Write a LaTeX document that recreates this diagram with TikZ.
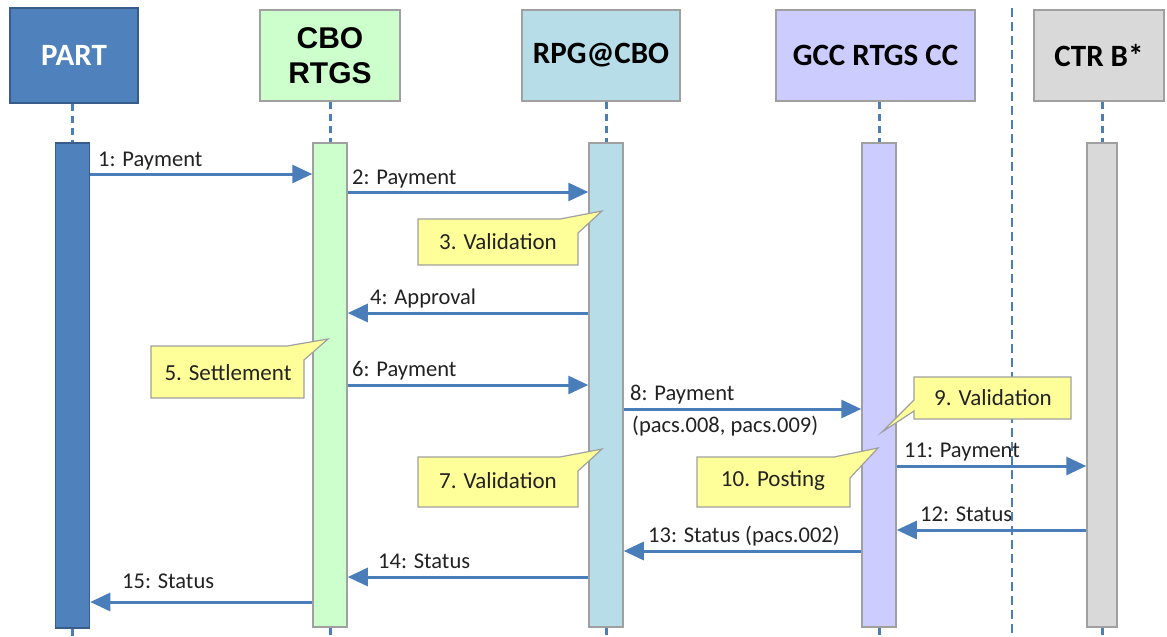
\documentclass[tikz,border=0pt]{standalone}
\usepackage{fontspec}
\setmainfont{Carlito}
\newfontfamily\arialfont{Liberation Sans}
\usetikzlibrary{arrows.meta}
\definecolor{partblue}{HTML}{4F81BD}
\definecolor{partdark}{HTML}{385D8A}
\definecolor{msgblue}{HTML}{4A7EBB}
\definecolor{cbogreen}{HTML}{CCFFCC}
\definecolor{rpgblue}{HTML}{B7DDE8}
\definecolor{gccviolet}{HTML}{CCCCFF}
\definecolor{ctrgrey}{HTML}{D9D9D9}
\definecolor{boxedge}{HTML}{A0A0A0}
\definecolor{noteyellow}{HTML}{FFFF99}
\definecolor{labeltxt}{HTML}{222222}
\tikzset{
  head/.style={draw=boxedge, line width=1.5pt, inner sep=0pt, align=center, font=\bfseries\fontsize{31}{34}\selectfont},
  bar/.style={draw=boxedge, line width=1.5pt, inner sep=0pt, minimum width=34pt},
  life/.style={draw=msgblue, line width=3pt, dash pattern=on 7pt off 5pt},
  sep/.style={draw=msgblue, line width=1.3pt, dash pattern=on 9pt off 5pt},
  msg/.style={draw=msgblue, line width=3pt, -{Triangle[length=20pt,width=18pt]}},
  lbl/.style={anchor=base west, inner sep=0pt, text=labeltxt, font=\fontsize{22.5}{24}\selectfont},
  note/.style={draw=boxedge, fill=noteyellow, line width=1.2pt},
  notetxt/.style={inner sep=0pt, text=labeltxt, font=\fontsize{23}{25}\selectfont},
}
\begin{document}
\begin{tikzpicture}[x=1pt,y=-1pt]
\useasboundingbox (0,0) rectangle (1167,637);
% separator
\coordinate (septop) at (1012,8);
\coordinate (sepbot) at (1012,637);
\draw[sep] (septop) -- (sepbot);
% headers
\node[head, fill=partblue, draw=partdark, text=white, minimum width=128pt, minimum height=95pt] (hpart) at (74,55.5) {PART};
\node[head, fill=cbogreen, minimum width=140pt, minimum height=91pt, font=\arialfont\bfseries\fontsize{30}{35}\selectfont] (hcbo) at (330,55.5) {CBO\\RTGS};
\node[head, fill=rpgblue, minimum width=158pt, minimum height=91pt] (hrpg) at (601,55.5) {RPG@CBO};
\node[head, fill=gccviolet, minimum width=199pt, minimum height=91pt] (hgcc) at (875.5,55.5) {GCC RTGS CC};
\node[head, fill=ctrgrey, minimum width=130pt, minimum height=91pt] (hctr) at (1099,55.5) {CTR B*};
% activation bars
\node[bar, fill=partblue, draw=partdark, minimum height=485pt] (bpart) at (72.5,385.5) {};
\node[bar, fill=cbogreen, minimum height=484pt] (bcbo) at (330,385) {};
\node[bar, fill=rpgblue, minimum height=484pt] (brpg) at (606,385) {};
\node[bar, fill=gccviolet, minimum height=484pt] (bgcc) at (879,385) {};
\node[bar, fill=ctrgrey, minimum width=30pt, minimum height=484pt] (bctr) at (1102,385) {};
% lifelines
\foreach \h/\b in {hpart/bpart, hcbo/bcbo, hrpg/brpg, hgcc/bgcc, hctr/bctr}{
  \draw[life] (\b.north |- \h.south) -- (\b.north);
  \coordinate (\b end) at (\b.south |- sepbot);
  \draw[life] (\b.south) -- (\b end);
}
% messages
\draw[msg] (bpart.east |- 0,174) -- (bcbo.west |- 0,174);
\node[lbl] (l1) at (98,166) {1: Payment};
\draw[msg] (bcbo.east |- 0,192) -- (brpg.west |- 0,192);
\node[lbl] (l2) at (352,184) {2: Payment};
\draw[msg] (brpg.west |- 0,313) -- (bcbo.east |- 0,313);
\node[lbl] (l4) at (370,304) {4: Approval};
\draw[msg] (bcbo.east |- 0,385) -- (brpg.west |- 0,385);
\node[lbl] (l6) at (352,376) {6: Payment};
\draw[msg] (brpg.east |- 0,409) -- (bgcc.west |- 0,409);
\node[lbl] (l8) at (630,400) {8: Payment};
\node[lbl] (l8b) at (632,432) {(pacs.008, pacs.009)};
\draw[msg] (bgcc.east |- 0,466) -- (bctr.west |- 0,466);
\node[lbl] (l11) at (904,457) {11: Payment};
\draw[msg] (bctr.west |- 0,530) -- (bgcc.east |- 0,530);
\node[lbl] (l12) at (920,521) {12: Status};
\draw[msg] (bgcc.west |- 0,551) -- (brpg.east |- 0,551);
\node[lbl] (l13) at (648,542) {13: Status (pacs.002)};
\draw[msg] (brpg.west |- 0,577) -- (bcbo.east |- 0,577);
\node[lbl] (l14) at (378,568) {14: Status};
\draw[msg] (bcbo.west |- 0,602) -- (bpart.east |- 0,602);
\node[lbl] (l15) at (122,588) {15: Status};
% notes
\draw[note] (418,219) -- (560,219) -- (602,211) -- (578,233) -- (578,265) -- (418,265) -- cycle;
\node[notetxt] (n3) at (498,242) {3. Validation};
\draw[note] (151,346) -- (287,346) -- (328,339) -- (304,360) -- (304,398) -- (151,398) -- cycle;
\node[notetxt] (n5) at (228,373) {5. Settlement};
\draw[note] (418,457) -- (560,457) -- (602,449) -- (578,471) -- (578,507) -- (418,507) -- cycle;
\node[notetxt] (n7) at (498,481) {7. Validation};
\draw[note] (914,377) -- (1071,377) -- (1071,419) -- (914,419) -- (914,411) -- (882,432) -- (914,400) -- cycle;
\node[notetxt] (n9) at (993,398) {9. Validation};
\draw[note] (697,457) -- (834,457) -- (878,448) -- (850,478) -- (850,507) -- (697,507) -- cycle;
\node[notetxt] (n10) at (773,481) {10. Posting};
\end{tikzpicture}
\end{document}
